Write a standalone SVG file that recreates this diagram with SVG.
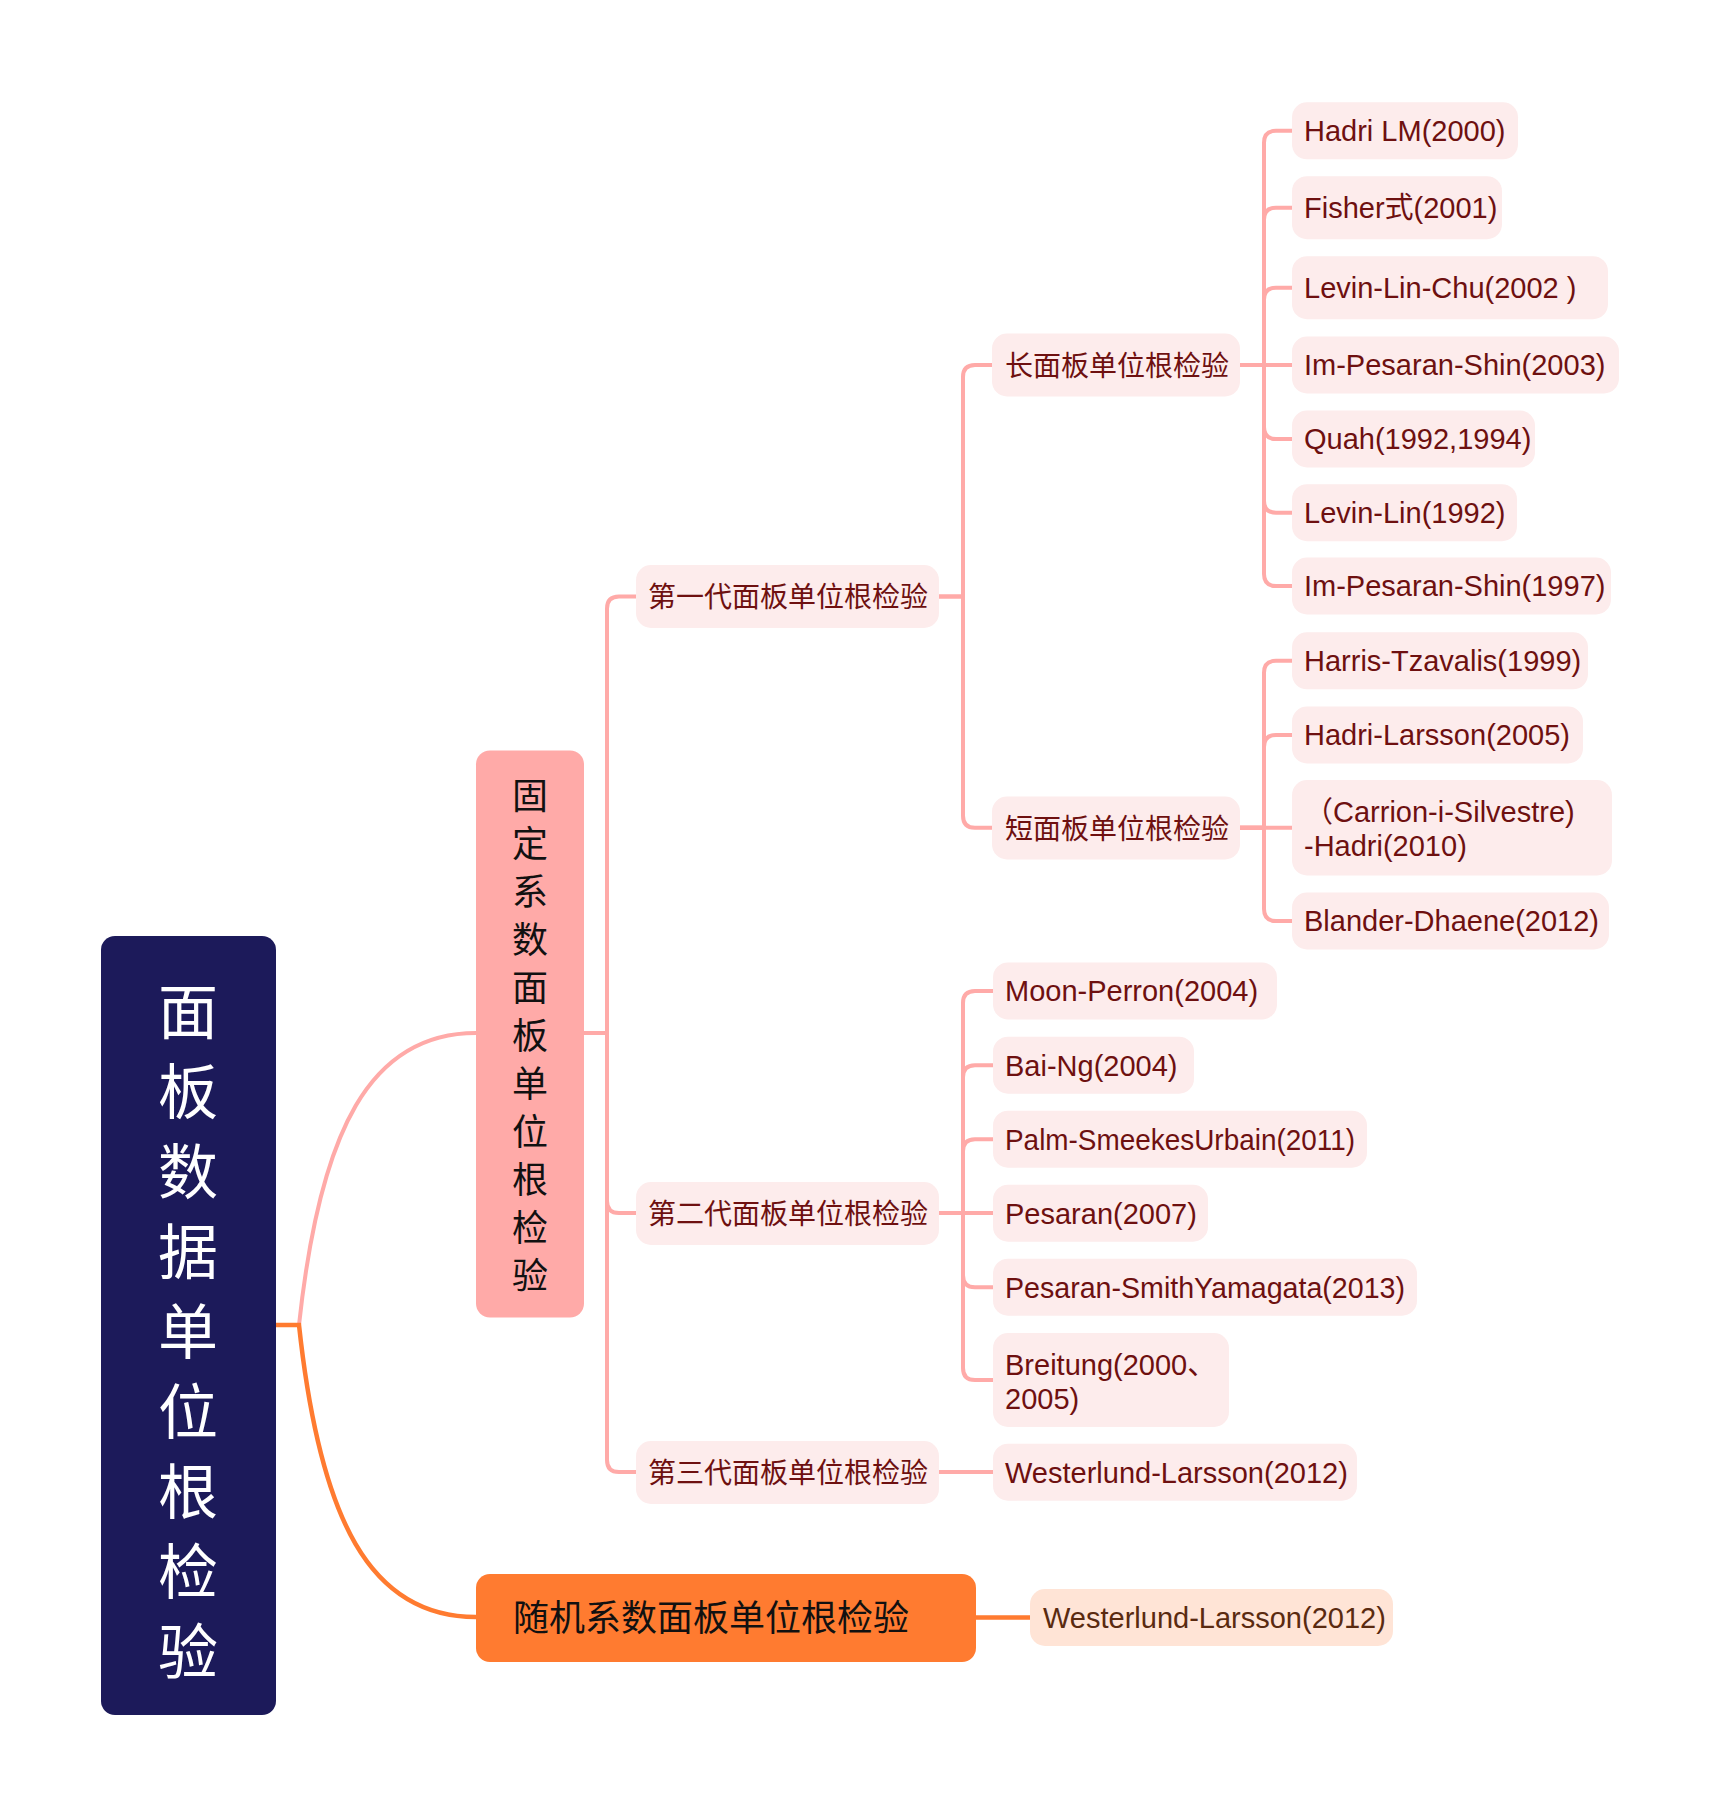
<svg xmlns="http://www.w3.org/2000/svg" width="1720" height="1816" viewBox="0 0 1720 1816">
  <style>
    .lat { font-family: "Liberation Sans", "Noto Sans CJK SC", sans-serif; font-size: 29px; fill: #6E1010; }
    .cjk { font-family: "Noto Sans CJK SC", "Liberation Sans", sans-serif; font-size: 28px; fill: #6E1010; }
    .leaf { fill: #FDECEC; }
    .link { fill: none; stroke: #FFAAA8; stroke-width: 4; stroke-linecap: round; }
    .olink { fill: none; stroke: #FF7B30; stroke-width: 4.5; stroke-linecap: round; }
    .rootch { font-family: "Noto Sans CJK SC", sans-serif; font-size: 60px; fill: #FFFFFF; text-anchor: middle; }
    .fixch { font-family: "Noto Sans CJK SC", sans-serif; font-size: 36px; fill: #111111; text-anchor: middle; }
  </style>
  <rect width="1720" height="1816" fill="#FFFFFF"/>

  <!-- connectors -->
  <g id="connectors">
    <path class="link" d="M299,1325 C320,1130 370,1033 476,1033"/>
    <path class="olink" d="M276,1325 H299 C320,1520 370,1617 476,1617"/>
    <path class="olink" d="M976,1617.5 H1030"/>

    <!-- fixed-coefficient branch to the three generations -->
    <path class="link" d="M584,1033 H607 V608.5 Q607,596.5 619,596.5 H636"/>
    <path class="link" d="M584,1033 H607 V1201 Q607,1213 619,1213 H636"/>
    <path class="link" d="M584,1033 H607 V1460 Q607,1472 619,1472 H636"/>

    <!-- first generation -->
    <path class="link" d="M939,596.5 H963 V377 Q963,365 975,365 H992"/>
    <path class="link" d="M939,596.5 H963 V815.7 Q963,827.7 975,827.7 H992"/>

    <!-- long panel -->
    <path class="link" d="M1240,365 H1264 V142.8 Q1264,130.8 1276,130.8 H1292"/>
    <path class="link" d="M1240,365 H1264 V219.7 Q1264,207.7 1276,207.7 H1292"/>
    <path class="link" d="M1240,365 H1264 V299.7 Q1264,287.7 1276,287.7 H1292"/>
    <path class="link" d="M1240,365 H1292"/>
    <path class="link" d="M1240,365 H1264 V427 Q1264,439 1276,439 H1292"/>
    <path class="link" d="M1240,365 H1264 V500.7 Q1264,512.7 1276,512.7 H1292"/>
    <path class="link" d="M1240,365 H1264 V574 Q1264,586 1276,586 H1292"/>

    <!-- short panel -->
    <path class="link" d="M1240,827.7 H1264 V672.8 Q1264,660.8 1276,660.8 H1292"/>
    <path class="link" d="M1240,827.7 H1264 V747 Q1264,735 1276,735 H1292"/>
    <path class="link" d="M1240,827.7 H1292"/>
    <path class="link" d="M1240,827.7 H1264 V909 Q1264,921 1276,921 H1292"/>

    <!-- second generation -->
    <path class="link" d="M939,1213 H963 V1002.9 Q963,990.9 975,990.9 H993"/>
    <path class="link" d="M939,1213 H963 V1077.2 Q963,1065.2 975,1065.2 H993"/>
    <path class="link" d="M939,1213 H963 V1151.2 Q963,1139.2 975,1139.2 H993"/>
    <path class="link" d="M939,1213 H993"/>
    <path class="link" d="M939,1213 H963 V1275.2 Q963,1287.2 975,1287.2 H993"/>
    <path class="link" d="M939,1213 H963 V1368 Q963,1380 975,1380 H993"/>

    <!-- third generation -->
    <path class="link" d="M939,1472 H993"/>
  </g>

  <!-- root -->
  <g id="root">
    <rect x="101" y="936" width="175" height="779" rx="14" fill="#1C1A5A"/>
    <text class="rootch" x="188" y="1034">面</text>
    <text class="rootch" x="188" y="1114">板</text>
    <text class="rootch" x="188" y="1194">数</text>
    <text class="rootch" x="188" y="1274">据</text>
    <text class="rootch" x="188" y="1354">单</text>
    <text class="rootch" x="188" y="1434">位</text>
    <text class="rootch" x="188" y="1514">根</text>
    <text class="rootch" x="188" y="1594">检</text>
    <text class="rootch" x="188" y="1674">验</text>
  </g>

  <!-- fixed coefficient -->
  <g id="fixed">
    <rect x="476" y="750.5" width="108" height="567" rx="14" fill="#FFAAA8"/>
    <text class="fixch" x="530" y="809">固</text>
    <text class="fixch" x="530" y="857">定</text>
    <text class="fixch" x="530" y="905">系</text>
    <text class="fixch" x="530" y="953">数</text>
    <text class="fixch" x="530" y="1001">面</text>
    <text class="fixch" x="530" y="1049">板</text>
    <text class="fixch" x="530" y="1097">单</text>
    <text class="fixch" x="530" y="1145">位</text>
    <text class="fixch" x="530" y="1193">根</text>
    <text class="fixch" x="530" y="1241">检</text>
    <text class="fixch" x="530" y="1289">验</text>
  </g>

  <!-- random coefficient -->
  <g id="random">
    <rect x="476" y="1574" width="500" height="88" rx="14" fill="#FF7B30"/>
    <text x="513" y="1631" font-family="'Noto Sans CJK SC', sans-serif" font-size="36" fill="#111111">随机系数面板单位根检验</text>
  </g>
  <g id="random-wl">
    <rect x="1030" y="1589" width="363" height="57" rx="15" fill="#FFE4D6"/>
    <text class="lat" x="1043" y="1628" style="fill:#5A2A10">Westerlund-Larsson(2012)</text>
  </g>

  <!-- generations -->
  <g id="gen1">
    <rect class="leaf" x="636" y="565" width="303" height="63" rx="15"/>
    <text class="cjk" x="648" y="607">第一代面板单位根检验</text>
  </g>
  <g id="gen2">
    <rect class="leaf" x="636" y="1182" width="303" height="63" rx="15"/>
    <text class="cjk" x="648" y="1224">第二代面板单位根检验</text>
  </g>
  <g id="gen3">
    <rect class="leaf" x="636" y="1441" width="303" height="63" rx="15"/>
    <text class="cjk" x="648" y="1483">第三代面板单位根检验</text>
  </g>

  <!-- long / short panel -->
  <g id="long">
    <rect class="leaf" x="992" y="333.5" width="248" height="63" rx="15"/>
    <text class="cjk" x="1005" y="375.5">长面板单位根检验</text>
  </g>
  <g id="short">
    <rect class="leaf" x="992" y="796.5" width="248" height="63" rx="15"/>
    <text class="cjk" x="1005" y="838.5">短面板单位根检验</text>
  </g>

  <!-- long panel tests -->
  <g id="hadri-lm">
    <rect class="leaf" x="1292" y="102.3" width="226" height="57" rx="15"/>
    <text class="lat" x="1304" y="141">Hadri LM(2000)</text>
  </g>
  <g id="fisher">
    <rect class="leaf" x="1292" y="176.2" width="210" height="63" rx="15"/>
    <text class="lat" x="1304" y="218">Fisher式(2001)</text>
  </g>
  <g id="llc">
    <rect class="leaf" x="1292" y="256.2" width="316" height="63" rx="15"/>
    <text class="lat" x="1304" y="298">Levin-Lin-Chu(2002 )</text>
  </g>
  <g id="ips2003">
    <rect class="leaf" x="1292" y="336.5" width="327" height="57" rx="15"/>
    <text class="lat" x="1304" y="375.4">Im-Pesaran-Shin(2003)</text>
  </g>
  <g id="quah">
    <rect class="leaf" x="1292" y="410.5" width="243" height="57" rx="15"/>
    <text class="lat" x="1304" y="449.4">Quah(1992,1994)</text>
  </g>
  <g id="levin-lin">
    <rect class="leaf" x="1292" y="484.2" width="225" height="57" rx="15"/>
    <text class="lat" x="1304" y="523.1">Levin-Lin(1992)</text>
  </g>
  <g id="ips1997">
    <rect class="leaf" x="1292" y="557.5" width="319" height="57" rx="15"/>
    <text class="lat" x="1304" y="596.4">Im-Pesaran-Shin(1997)</text>
  </g>

  <!-- short panel tests -->
  <g id="harris">
    <rect class="leaf" x="1292" y="632.3" width="296" height="57" rx="15"/>
    <text class="lat" x="1304" y="671.2">Harris-Tzavalis(1999)</text>
  </g>
  <g id="hadri-larsson">
    <rect class="leaf" x="1292" y="706.5" width="291" height="57" rx="15"/>
    <text class="lat" x="1304" y="745.4">Hadri-Larsson(2005)</text>
  </g>
  <g id="carrion">
    <rect class="leaf" x="1292" y="780" width="320" height="95.5" rx="15"/>
    <text class="lat" x="1304" y="822">（Carrion-i-Silvestre)</text>
    <text class="lat" x="1304" y="855.5">-Hadri(2010)</text>
  </g>
  <g id="blander">
    <rect class="leaf" x="1292" y="892.5" width="317" height="57" rx="15"/>
    <text class="lat" x="1304" y="931.4">Blander-Dhaene(2012)</text>
  </g>

  <!-- second generation tests -->
  <g id="moon-perron">
    <rect class="leaf" x="993" y="962.4" width="284" height="57" rx="15"/>
    <text class="lat" x="1005" y="1001.3">Moon-Perron(2004)</text>
  </g>
  <g id="bai-ng">
    <rect class="leaf" x="993" y="1036.7" width="201" height="57" rx="15"/>
    <text class="lat" x="1005" y="1075.6">Bai-Ng(2004)</text>
  </g>
  <g id="palm">
    <rect class="leaf" x="993" y="1110.7" width="374" height="57" rx="15"/>
    <text class="lat" x="1005" y="1149.6" textLength="350" lengthAdjust="spacingAndGlyphs">Palm-SmeekesUrbain(2011)</text>
  </g>
  <g id="pesaran">
    <rect class="leaf" x="993" y="1184.7" width="215" height="57" rx="15"/>
    <text class="lat" x="1005" y="1223.6">Pesaran(2007)</text>
  </g>
  <g id="psy">
    <rect class="leaf" x="993" y="1258.7" width="424" height="57" rx="15"/>
    <text class="lat" x="1005" y="1297.6" textLength="400" lengthAdjust="spacingAndGlyphs">Pesaran-SmithYamagata(2013)</text>
  </g>
  <g id="breitung">
    <rect class="leaf" x="993" y="1333" width="236" height="94" rx="15"/>
    <text class="lat" x="1005" y="1374.5">Breitung(2000、</text>
    <text class="lat" x="1005" y="1408.5">2005)</text>
  </g>

  <!-- third generation test -->
  <g id="westerlund">
    <rect class="leaf" x="993" y="1443.7" width="364" height="57" rx="15"/>
    <text class="lat" x="1005" y="1482.6">Westerlund-Larsson(2012)</text>
  </g>
</svg>
